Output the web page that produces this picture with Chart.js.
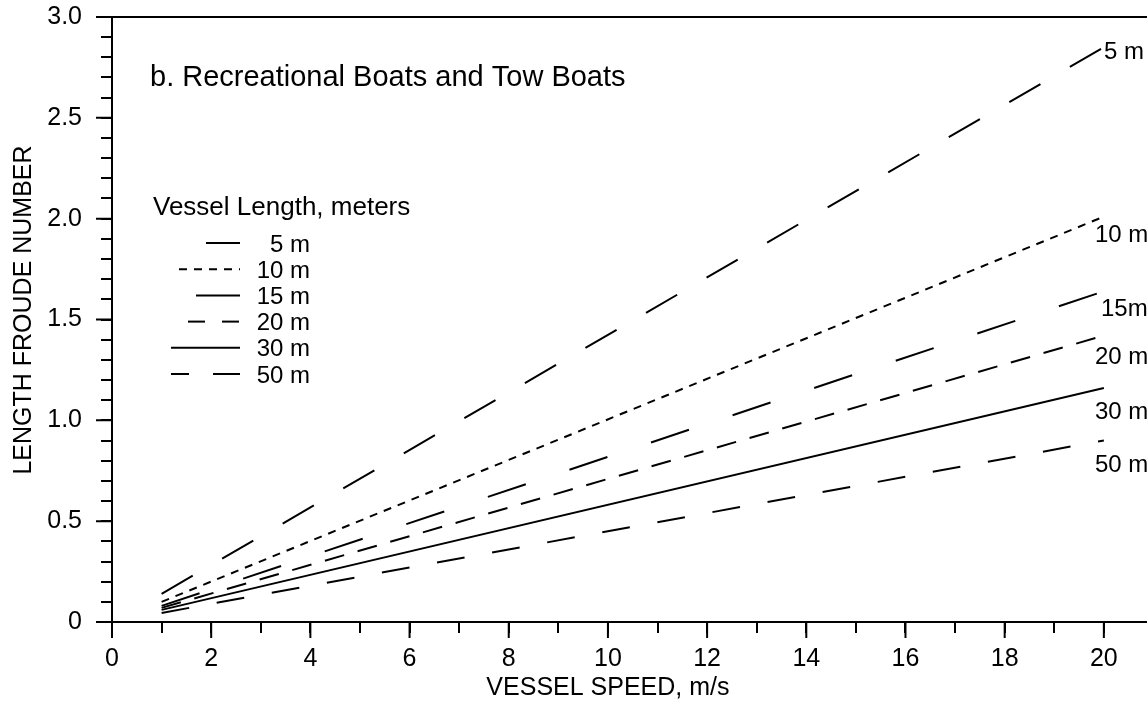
<!DOCTYPE html>
<html>
<head>
<meta charset="utf-8">
<script src="https://cdn.jsdelivr.net/npm/chart.js@4.4.1/dist/chart.umd.min.js"></script>
<style>
html, body { margin: 0; padding: 0; background: #fff; }
#wrap { width: 1147px; height: 709px; }
</style>
</head>
<body>
<div id="wrap"><canvas id="froude" width="1147" height="709"></canvas></div>
<script>
// vessel speed, m/s (lines run from 1 to 20)
const speeds = [1, 20];
// length Froude number at those speeds
const fr5m = [0.14, 2.85];
const fr10m = [0.10, 2.01];
const fr15m = [0.08, 1.64];
const fr20m = [0.07, 1.42];
const fr30m = [0.06, 1.16];
const fr50m = [0.045, 0.90];
const lengthLabels = ['5 m', '10 m', '15 m', '20 m', '30 m', '50 m'];
const endLabels = ['5 m', '10 m', '15m', '20 m', '30 m', '50 m'];

const FONT = '"Liberation Sans", Arial, Helvetica, sans-serif';
const series = [fr5m, fr10m, fr15m, fr20m, fr30m, fr50m];
const dashes = [[36, 34], [8, 7], [40, 46], [20, 14], [], [28, 28]];

// legend samples: start x and dash pattern
const sampleStart = [206, 179, 196, 188, 171, 171];
const sampleDash = [[], [8, 7], [], [17, 17], [], [18, 24, 27]];
// end labels: x of text and offset below line end
const endLabelX = [1104, 1095, 1101, 1095, 1095, 1095];
const endLabelDy = [3, 17, 16, 20, 22, 23];

const decor = {
    id: 'decor',
    afterDraw(chart) {
        const ctx = chart.ctx;
        const area = chart.chartArea;
        const x = chart.scales.x;
        const y = chart.scales.y;
        ctx.save();
        ctx.strokeStyle = '#000';
        ctx.fillStyle = '#000';
        ctx.lineWidth = 2;

        // top frame line
        ctx.beginPath();
        ctx.moveTo(area.left - 16, area.top);
        ctx.lineTo(area.right, area.top);
        ctx.stroke();

        // longer major ticks
        ctx.beginPath();
        y.ticks.forEach(t => {
            if (Math.round(t.value * 10) % 5 === 0) {
                const py = y.getPixelForValue(t.value);
                ctx.moveTo(area.left - 16, py);
                ctx.lineTo(area.left, py);
            }
        });
        x.ticks.forEach(t => {
            if (t.value % 2 === 0) {
                const px = x.getPixelForValue(t.value);
                ctx.moveTo(px, area.bottom);
                ctx.lineTo(px, area.bottom + 16);
            }
        });
        ctx.stroke();

        // panel title
        ctx.textBaseline = 'alphabetic';
        ctx.textAlign = 'left';
        ctx.font = '29px ' + FONT;
        ctx.fillText('b. Recreational Boats and Tow Boats', 150, 86);

        // legend
        ctx.font = '26px ' + FONT;
        ctx.fillText('Vessel Length, meters', 153, 215);
        ctx.font = '24px ' + FONT;
        for (let i = 0; i < lengthLabels.length; i++) {
            const cy = 243 + i * 26.2;
            ctx.textAlign = 'right';
            ctx.fillText(lengthLabels[i], 310, cy + 8.5);
            ctx.setLineDash(sampleDash[i]);
            ctx.beginPath();
            ctx.moveTo(sampleStart[i], cy);
            ctx.lineTo(240, cy);
            ctx.stroke();
        }
        ctx.setLineDash([]);

        // labels at line ends
        ctx.textAlign = 'left';
        for (let i = 0; i < series.length; i++) {
            const vals = series[i];
            const py = y.getPixelForValue(vals[vals.length - 1]) + endLabelDy[i];
            ctx.fillText(endLabels[i], endLabelX[i], py + 8.5);
        }

        // axis titles
        ctx.font = '25px ' + FONT;
        ctx.textAlign = 'center';
        ctx.fillText('VESSEL SPEED, m/s', x.getPixelForValue(10), 695);
        ctx.translate(24, 310);
        ctx.rotate(-Math.PI / 2);
        ctx.textBaseline = 'middle';
        ctx.fillText('LENGTH FROUDE NUMBER', 0, 0);
        ctx.restore();
    }
};

const chart = new Chart(document.getElementById('froude'), {
    type: 'line',
    data: {
        datasets: series.map((vals, i) => ({
            label: lengthLabels[i],
            data: speeds.map((s, j) => ({x: s, y: vals[j]})),
            borderColor: '#000',
            borderWidth: 2,
            borderDash: dashes[i],
            pointRadius: 0,
            fill: false,
            tension: 0
        }))
    },
    options: {
        responsive: false,
        animation: false,
        layout: {padding: {top: 17, right: 0, left: 0, bottom: 0}},
        plugins: {
            legend: {display: false},
            tooltip: {enabled: false}
        },
        scales: {
            x: {
                type: 'linear',
                min: 0,
                max: 20.87,
                afterFit: (scale) => {
                    scale.height = 87;
                    scale.paddingLeft = 0;
                    scale.paddingRight = 0;
                },
                border: {display: true, color: '#000', width: 2},
                grid: {drawOnChartArea: false, drawTicks: true, tickLength: 11, color: '#000', lineWidth: 2},
                ticks: {
                    stepSize: 1,
                    includeBounds: false,
                    autoSkip: false,
                    maxRotation: 0,
                    padding: 11,
                    color: '#000',
                    font: {family: FONT, size: 25},
                    callback: (v) => v % 2 === 0 ? String(v) : ''
                }
            },
            y: {
                min: 0,
                max: 3,
                afterFit: (scale) => {
                    scale.width = 112;
                    scale.paddingTop = 0;
                    scale.paddingBottom = 0;
                },
                border: {display: true, color: '#000', width: 2},
                grid: {drawOnChartArea: false, drawTicks: true, tickLength: 11, color: '#000', lineWidth: 2},
                ticks: {
                    stepSize: 0.1,
                    autoSkip: false,
                    padding: 19,
                    color: '#000',
                    font: {family: FONT, size: 25},
                    callback: (v) => {
                        const r = Math.round(v * 10);
                        if (r % 5 !== 0) return '';
                        return r === 0 ? '0' : (r / 10).toFixed(1);
                    }
                }
            }
        }
    },
    plugins: [decor]
});
</script>
</body>
</html>
